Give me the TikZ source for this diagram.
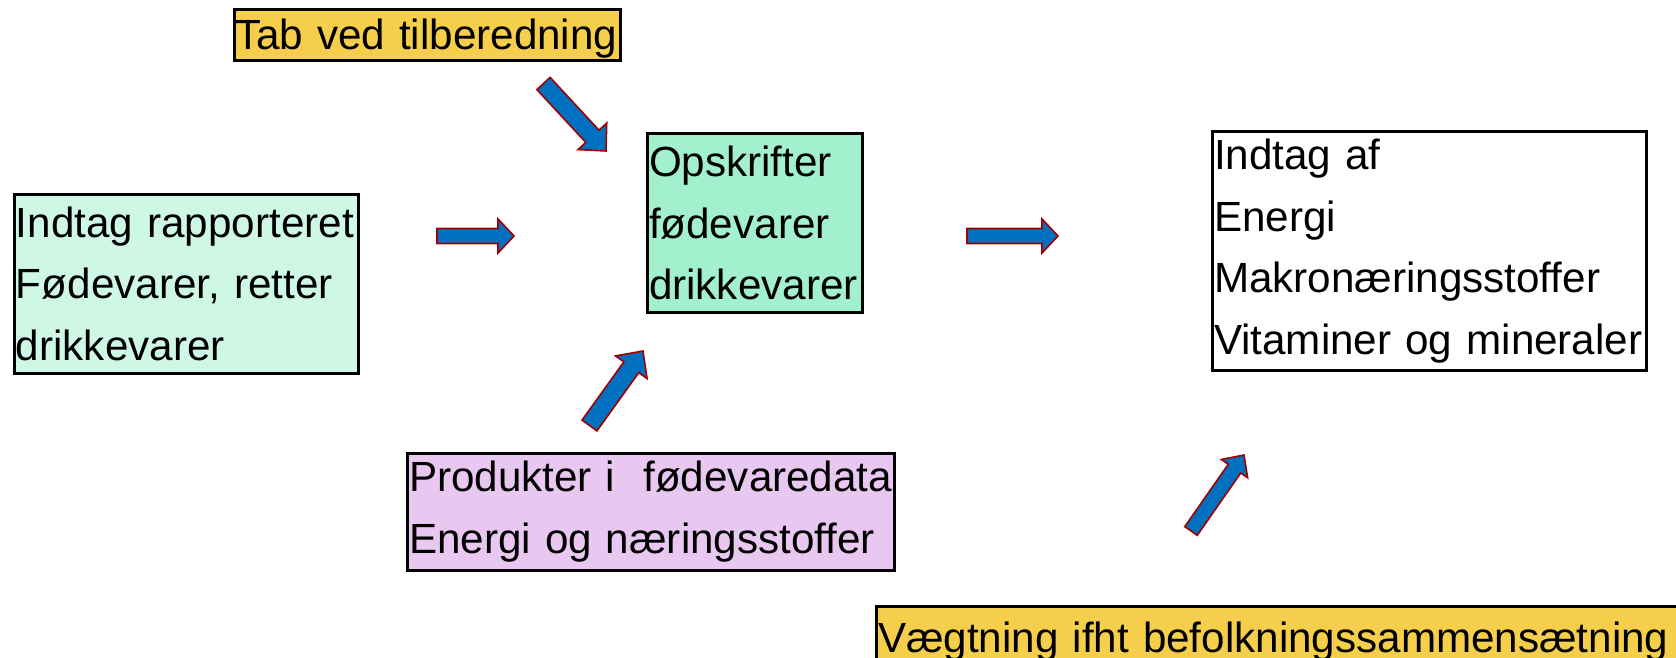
\documentclass[tikz,border=0pt]{standalone}
\usepackage{fontspec}
\setmainfont{Liberation Sans}
\usetikzlibrary{calc}

\definecolor{pilblaa}{HTML}{0070C0}
\definecolor{pilrand}{HTML}{A00000}
\definecolor{gul}{HTML}{F5CE4C}
\definecolor{lysgroen}{HTML}{CFF7E6}
\definecolor{mintgroen}{HTML}{A3F0CF}
\definecolor{lilla}{HTML}{E8C8F0}

% blokpil fra #1 til #2: skaft #3, hoved #4, hovedlaengde #5
\newcommand{\blokpil}[5]{%
  \coordinate (hb) at ($(#2)!#5!(#1)$);
  \filldraw[pil] ($(#1)!#3!90:(#2)$) -- ($(hb)!#3!90:(#2)$) -- ($(hb)!#4!90:(#2)$) -- (#2)
    -- ($(hb)!#4!-90:(#2)$) -- ($(hb)!#3!-90:(#2)$) -- ($(#1)!#3!-90:(#2)$) -- cycle;}

\begin{document}
\begin{tikzpicture}[x=0.5pt, y=-0.5pt,
  boks/.style={draw=black, line width=1.5pt, inner xsep=1pt, inner ysep=0pt, align=left,
    font=\fontsize{21.1}{30.75}\selectfont},
  pil/.style={fill=pilblaa, draw=pilrand, line width=0.8pt, line join=miter}]

\path[use as bounding box] (0,0) rectangle (1676,658);

\node[boks, fill=gul, inner xsep=0.5pt, minimum width=193pt, text width=192pt, minimum height=25.5pt, text height=18.4pt] (tab) at (427,35.5) {\mbox{Tab ved tilberedning}};
\node[boks, fill=lysgroen, minimum width=172pt, text width=170pt, minimum height=89.5pt] (rep) at (186,283.5) {Indtag rapporteret\\Fødevarer, retter\\drikkevarer};
\node[boks, fill=mintgroen, minimum width=107.5pt, text width=105.5pt, minimum height=89pt] (ops) at (754.5,223) {Opskrifter\\fødevarer\\\mbox{drikkevarer}};
\node[boks, fill=white, minimum width=217pt, text width=215pt, minimum height=119.5pt] (ind) at (1429,251) {Indtag af\\Energi\\Makronæringsstoffer\\\mbox{Vitaminer og mineraler}};
\node[boks, fill=lilla, minimum width=243.5pt, text width=241.5pt, minimum height=58.5pt] (prod) at (650.5,511.5) {\mbox{Produkter i\ \ fødevaredata}\\Energi og næringsstoffer};
\node[boks, fill=gul, minimum width=407pt, text width=405pt, minimum height=29pt, text height=21.8pt] (vaeg) at (1283,635) {\mbox{Vægtning ifht befolkningssammensætning}};

\coordinate (H_1) at (543.5,83.5);
\coordinate (S_1) at (606,151);
\coordinate (H_2) at (437,236);
\coordinate (S_2) at (514,236);
\coordinate (H_3) at (589.5,425.5);
\coordinate (S_3) at (643,351);
\coordinate (H_4) at (967,236);
\coordinate (S_4) at (1058,236);
\coordinate (H_5) at (1191,531);
\coordinate (S_5) at (1244,455);

\blokpil{H_1}{S_1}{4.5pt}{9.75pt}{10pt}
\blokpil{H_2}{S_2}{3.75pt}{8.5pt}{8pt}
\blokpil{H_3}{S_3}{4.6pt}{9.7pt}{10pt}
\blokpil{H_4}{S_4}{3.75pt}{8.5pt}{8pt}
\blokpil{H_5}{S_5}{3.8pt}{8pt}{8.3pt}

\end{tikzpicture}
\end{document}
